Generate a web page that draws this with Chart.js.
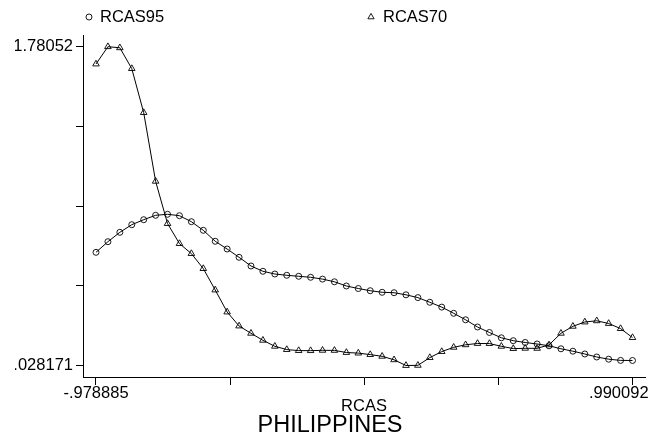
<!DOCTYPE html>
<html>
<head>
<meta charset="utf-8">
<script src="https://cdn.jsdelivr.net/npm/chart.js@4.4.1/dist/chart.umd.min.js"></script>
<style>
  html, body { margin: 0; padding: 0; background: #ffffff; }
  #wrap { width: 650px; height: 441px; }
</style>
</head>
<body>
<div id="wrap"><canvas id="c" width="650" height="441"></canvas></div>
<script>
// Evaluation grid on the RCAS axis
const rcasGrid = [
  -0.978885, -0.935130, -0.891375, -0.847620, -0.803865, -0.760110, -0.716355, -0.672600,
  -0.628845, -0.585090, -0.541335, -0.497580, -0.453824, -0.410069, -0.366314, -0.322559,
  -0.278804, -0.235049, -0.191294, -0.147539, -0.103784, -0.060029, -0.016274,  0.027481,
   0.071236,  0.114991,  0.158746,  0.202501,  0.246256,  0.290011,  0.333766,  0.377521,
   0.421276,  0.465031,  0.508787,  0.552542,  0.596297,  0.640052,  0.683807,  0.727562,
   0.771317,  0.815072,  0.858827,  0.902582,  0.946337,  0.990092
];

// Density of RCAS in 1995
const rcas95 = [
  0.6504, 0.7087, 0.7603, 0.8021, 0.8296, 0.8538, 0.8593, 0.8516, 0.8186, 0.7713,
  0.7109, 0.6685, 0.6229, 0.5751, 0.5460, 0.5311, 0.5240, 0.5185, 0.5130, 0.5031,
  0.4882, 0.4652, 0.4514, 0.4393, 0.4305, 0.4283, 0.4168, 0.4014, 0.3756, 0.3492,
  0.3151, 0.2794, 0.2398, 0.2096, 0.1804, 0.1645, 0.1546, 0.1464, 0.1365, 0.1200,
  0.1068, 0.0914, 0.0749, 0.0628, 0.0562, 0.0557
];

// Density of RCAS in 1970
const rcas70 = [
  1.6854, 1.78052, 1.7745, 1.6601, 1.4183, 1.0407, 0.8082, 0.6982, 0.6433, 0.5608,
  0.4432, 0.3222, 0.2453, 0.2052, 0.1667, 0.1337, 0.1156, 0.1101, 0.1098, 0.1117,
  0.1112, 0.0996, 0.0963, 0.0881, 0.0787, 0.0595, 0.028171, 0.0290, 0.0716, 0.1046,
  0.1282, 0.1420, 0.1491, 0.1488, 0.1337, 0.1211, 0.1227, 0.1224, 0.1414, 0.2052,
  0.2436, 0.2673, 0.2739, 0.2590, 0.2310, 0.1815
];

const seriesNames = ['RCAS95', 'RCAS70'];

const xTickValues = [-0.978885, -0.486641, 0.005604, 0.497848, 0.990092];
const xTickLabels = ['-.978885', '', '', '', '.990092'];
const yTickValues = [0.028171, 0.466258, 0.904346, 1.342433, 1.78052];
const yTickLabels = ['.028171', '', '', '', '1.78052'];

const FONT = "'Liberation Sans', Arial, Helvetica, sans-serif";
const INK = '#000000';
const TEXT_SIZE = 16.5;

Chart.defaults.font.family = FONT;
Chart.defaults.color = INK;

// Key row above the plot: marker + series name for each dataset
const keyRow = {
  id: 'keyRow',
  afterDraw(chart, args, opts) {
    const ctx = chart.ctx;
    ctx.save();
    chart.data.datasets.forEach((ds, i) => {
      const it = opts.items[i];
      ctx.strokeStyle = INK;
      ctx.fillStyle = 'rgba(0,0,0,0)';
      ctx.lineWidth = 0.9;
      Chart.helpers.drawPoint(ctx, {
        pointStyle: ds.pointStyle, radius: it.r, rotation: 0, borderWidth: 0.9
      }, it.x, opts.y);
      ctx.fillStyle = INK;
      ctx.font = opts.fontSize + 'px ' + FONT;
      ctx.textAlign = 'left';
      ctx.textBaseline = 'middle';
      ctx.fillText(ds.label, it.textX, opts.y);
    });
    ctx.restore();
  }
};

const lineStyle = {
  borderColor: INK,
  borderWidth: 1,
  pointBorderColor: INK,
  pointBackgroundColor: 'rgba(0,0,0,0)',
  pointBorderWidth: 0.9,
  tension: 0,
  fill: false
};

new Chart(document.getElementById('c'), {
  type: 'line',
  data: {
    datasets: [
      Object.assign({
        label: seriesNames[0],
        data: rcasGrid.map((x, i) => ({ x: x, y: rcas95[i] })),
        pointStyle: 'circle',
        pointRadius: 3
      }, lineStyle),
      Object.assign({
        label: seriesNames[1],
        data: rcasGrid.map((x, i) => ({ x: x, y: rcas70[i] })),
        pointStyle: 'triangle',
        pointRadius: 3.8
      }, lineStyle)
    ]
  },
  options: {
    responsive: false,
    animation: false,
    devicePixelRatio: 1,
    layout: { padding: { top: 35, right: 5, left: 15, bottom: 0 } },
    plugins: {
      legend: { display: false },
      tooltip: { enabled: false },
      title: {
        display: true,
        position: 'bottom',
        text: 'PHILIPPINES',
        color: INK,
        font: { size: 23.5, weight: 'normal', lineHeight: 1 },
        padding: { top: 0, bottom: 3.5 }
      },
      keyRow: {
        y: 17,
        fontSize: TEXT_SIZE,
        items: [
          { x: 89, r: 3, textX: 100 },
          { x: 371, r: 3.6, textX: 383 }
        ]
      }
    },
    scales: {
      x: {
        type: 'linear',
        min: -1.026595,
        max: 1.035966,
        afterBuildTicks: s => { s.ticks = xTickValues.map(v => ({ value: v })); },
        afterFit: s => { s.height = 37; s.paddingLeft = 0; s.paddingRight = 0; },
        border: { display: true, color: INK, width: 1 },
        grid: { drawOnChartArea: false, drawTicks: true, tickLength: 8, tickColor: INK, tickWidth: 1 },
        ticks: {
          autoSkip: false, maxRotation: 0, minRotation: 0, padding: 0, color: INK,
          font: { size: TEXT_SIZE, lineHeight: 1 },
          callback: (v, i) => (i === xTickLabels.length - 1 ? xTickLabels[i] + '\u2007\u2007\u2007' : xTickLabels[i])
        },
        title: {
          display: true, text: 'RCAS', color: INK,
          font: { size: TEXT_SIZE, lineHeight: 1 },
          padding: { top: 0, bottom: -1 }
        }
      },
      y: {
        type: 'linear',
        min: -0.035040,
        max: 1.84483,
        afterBuildTicks: s => { s.ticks = yTickValues.map(v => ({ value: v })); },
        afterFit: s => { s.width = 68; s.paddingTop = 0; s.paddingBottom = 0; },
        border: { display: true, color: INK, width: 1 },
        grid: { drawOnChartArea: false, drawTicks: true, tickLength: 7, tickColor: INK, tickWidth: 1 },
        ticks: {
          autoSkip: false, padding: 3, color: INK,
          font: { size: TEXT_SIZE, lineHeight: 1 },
          callback: (v, i) => yTickLabels[i]
        }
      }
    }
  },
  plugins: [keyRow]
});
</script>
</body>
</html>
